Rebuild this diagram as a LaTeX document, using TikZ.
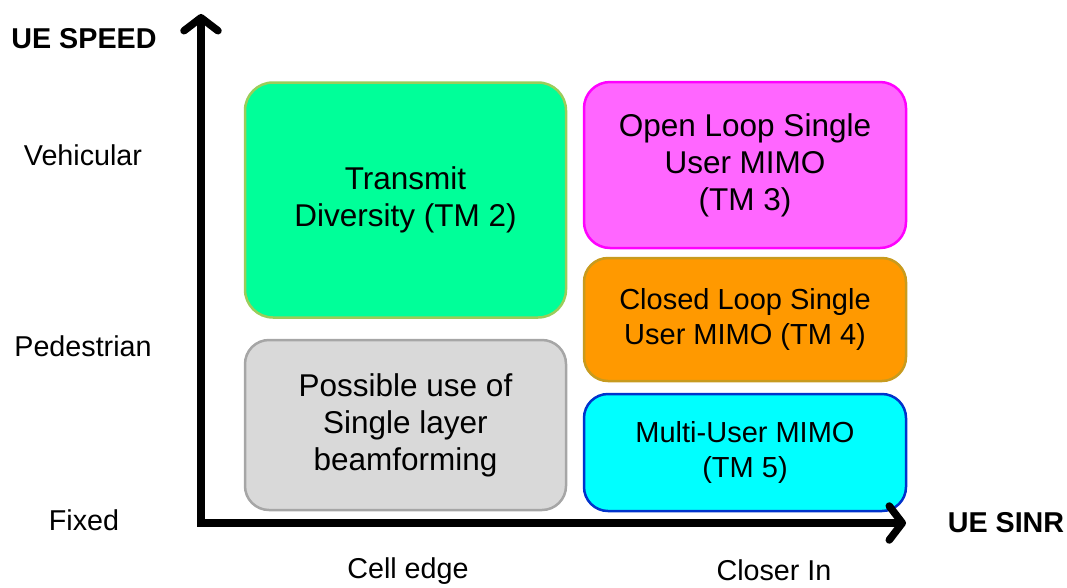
\documentclass[tikz,border=0pt]{standalone}
\usepackage{fontspec}
\setmainfont{Liberation Sans}
\usetikzlibrary{arrows.meta}
\definecolor{tgreen}{RGB}{0,255,153}
\definecolor{tgreenb}{RGB}{155,205,90}
\definecolor{tgray}{RGB}{217,217,217}
\definecolor{tgrayb}{RGB}{166,166,166}
\definecolor{tmag}{RGB}{255,102,255}
\definecolor{tmagb}{RGB}{255,0,255}
\definecolor{torange}{RGB}{255,153,0}
\definecolor{torangeb}{RGB}{200,155,30}
\definecolor{tcyan}{RGB}{0,255,255}
\definecolor{tcyanb}{RGB}{0,51,204}
\tikzset{
  modebox/.style={draw, line width=2.5pt, rounded corners=28pt, align=center, inner sep=0pt,
    font=\fontsize{31.5}{37}\selectfont},
  smallbox/.style={modebox, font=\fontsize{29}{35}\selectfont, rounded corners=24pt},
  axislabel/.style={anchor=base, font=\fontsize{28.7}{34}\selectfont, inner sep=0pt},
  axistitle/.style={axislabel, font=\fontsize{28.7}{34}\selectfont\bfseries},
  axisline/.style={line width=7.5pt, line join=miter,
    {Straight Barb[length=13pt, width=34pt, line cap=round, line join=round]}-{Straight Barb[length=13pt, width=34pt, line cap=round, line join=round]}}
}
\begin{document}
\begin{tikzpicture}[x=1pt,y=-1pt]
\useasboundingbox (0,0) rectangle (1067,587);
% boxes
\node[modebox, fill=tgreen, draw=tgreenb, minimum width=321pt, minimum height=235pt]
  (td) at (405.5,200) {Transmit\\Diversity (TM 2)};
\node[modebox, fill=tgray, draw=tgrayb, minimum width=321pt, minimum height=170pt, rounded corners=24pt]
  (bf) at (405.5,425) {Possible use of\\Single layer\\beamforming};
\node[modebox, fill=tmag, draw=tmagb, minimum width=322pt, minimum height=166pt, rounded corners=26pt]
  (ol) at (745,165) {Open Loop Single\\User MIMO\\(TM 3)};
\node[smallbox, fill=torange, draw=torangeb, minimum width=322pt, minimum height=123pt]
  (cl) at (745,319.5) {Closed Loop Single\\User MIMO (TM 4)};
\node[smallbox, fill=tcyan, draw=tcyanb, minimum width=322pt, minimum height=117pt]
  (mu) at (745,452.5) {Multi-User MIMO\\(TM 5)};
% axes
\coordinate (O) at (201,523);
\coordinate (xend) at (906,523);
\coordinate (yend) at (201,14);
\draw[axisline] (xend) -- (O) -- (yend);
% labels
\node[axistitle] (speed) at (84,48) {UE SPEED};
\node[axislabel] (veh) at (83,165) {Vehicular};
\node[axislabel] (ped) at (83,356) {Pedestrian};
\node[axislabel] (fix) at (84,530) {Fixed};
\node[axislabel] (edge) at (408,578) {Cell edge};
\node[axislabel] (closer) at (774,580) {Closer In};
\node[axistitle] (sinr) at (1006,532) {UE SINR};
\end{tikzpicture}
\end{document}
